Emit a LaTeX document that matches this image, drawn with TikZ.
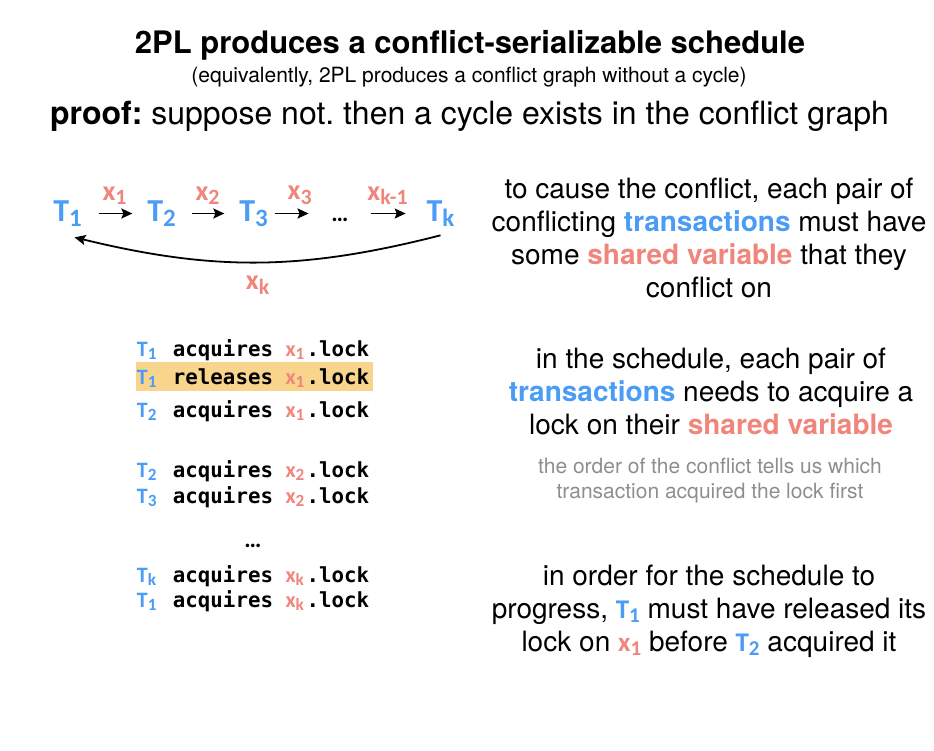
\documentclass[tikz,border=0pt]{standalone}
\usepackage{fontspec}
\setmainfont{TeX Gyre Heros}
\setmonofont{DejaVu Sans Mono}
\newfontfamily\calfont{Carlito}
\usetikzlibrary{arrows.meta,positioning}

\definecolor{txblue}{HTML}{4A9CF4}
\definecolor{varred}{HTML}{F0857C}
\definecolor{lockhl}{HTML}{F8D48C}
\definecolor{notegray}{HTML}{8E8E8E}

\newcommand{\sub}[1]{\raisebox{-0.16em}{\scalebox{0.78}{#1}}}
\newcommand{\txn}[1]{{\calfont\bfseries\color{txblue}T\sub{#1}}}
\newcommand{\svar}[1]{{\calfont\bfseries\color{varred}x\sub{#1}}}
\newcommand{\inl}[1]{{\fontsize{27}{33}\selectfont#1}}
\newcommand{\opline}[3]{\makebox[36pt][l]{\fontsize{22}{26}\selectfont\txn{#1}}#2 \makebox[21pt][l]{\fontsize{22}{26}\selectfont\svar{#3}}.lock}

\begin{document}
\frenchspacing
\begin{tikzpicture}[x=1pt, y=-1pt, >={Stealth[length=11pt,width=10pt,inset=2pt]}, line width=1.8pt,
    txnode/.style={inner sep=0pt, text=txblue, font=\calfont\bfseries\fontsize{32}{36}\selectfont},
    varlbl/.style={inner sep=0pt, text=varred, font=\calfont\bfseries\fontsize{28}{30}\selectfont},
    opnode/.style={anchor=base west, inner sep=0pt, font=\ttfamily\bfseries\fontsize{20.8}{24}\selectfont},
    prose/.style={anchor=base, align=center, inner sep=0pt, font=\fontsize{28}{33}\selectfont},
    note/.style={anchor=base, align=center, inner sep=0pt, text=notegray, font=\fontsize{21}{25}\selectfont}]
    \useasboundingbox (0,0) rectangle (934,750);

    % heading
    \node[anchor=base, font=\bfseries\fontsize{31}{36}\selectfont] (title) at (470,53) {2PL produces a conflict-serializable schedule};
    \node[anchor=base, font=\fontsize{21}{25}\selectfont] (subtitle) at (469,82) {(equivalently, 2PL produces a conflict graph without a cycle)};
    \node[anchor=base, font=\fontsize{32}{36}\selectfont] (proof) at (469.5,124) {\textbf{proof:} suppose not. then a cycle exists in the conflict graph};

    % conflict graph
    \node[txnode] (t1) at (67.5,213.5) {T\sub{1}};
    \node[txnode] (t2) at (161.5,213.5) {T\sub{2}};
    \node[txnode] (t3) at (253.5,213.5) {T\sub{3}};
    \node[txnode, text=black] (dots) at (340,213.5) {\vphantom{T\sub{1}}{\fontsize{24}{28}\selectfont …}};
    \node[txnode] (tk) at (440.5,213.5) {T\sub{k}};

    \path[->]
        (t1) edge[shorten <=16pt, shorten >=14pt] node[varlbl, above=8pt] {x\sub{1}} (t2)
        (t2) edge[shorten <=15pt, shorten >=14pt] node[varlbl, above=8pt] {x\sub{2}} (t3)
        (t3) edge[shorten <=6pt, shorten >=22pt] node[varlbl, above=8pt] {x\sub{3}} (dots)
        (dots) edge[shorten <=22pt, shorten >=20pt] node[varlbl, above=8pt] {x\sub{k-1}} (tk);
    \draw[->] ([yshift=-8pt]tk.south) to[bend left=14] node[varlbl, below=13pt] (xk) {x\sub{k}} ([xshift=7pt,yshift=-10pt]t1.south);

    % schedule
    \fill[lockhl] (136,362) rectangle (373,391);
    \node[opnode] (acq1) at (136,356) {\opline{1}{acquires}{1}};
    \node[opnode] (rel1) at (136,384) {\opline{1}{releases}{1}};
    \node[opnode] (acq2) at (136,417) {\opline{2}{acquires}{1}};
    \node[opnode] (acq3) at (136,477) {\opline{2}{acquires}{2}};
    \node[opnode] (acq4) at (136,503) {\opline{3}{acquires}{2}};
    \node[anchor=base, inner sep=0pt, font=\calfont\bfseries\fontsize{24}{28}\selectfont] (sdots) at (253,547) {…};
    \node[opnode] (acqk) at (136,582) {\opline{k}{acquires}{k}};
    \node[opnode] (acqlast) at (136,607) {\opline{1}{acquires}{k}};

    % explanations (base = last line)
    \node[prose] (why) at (709,297) {to cause the conflict, each pair of\\
        conflicting \textbf{\color{txblue}transactions} must have\\
        some \textbf{\color{varred}shared variable} that they\\
        conflict on};
    \node[prose] (locks) at (711,434) {in the schedule, each pair of\\
        \textbf{\color{txblue}transactions} needs to acquire a\\
        lock on their \textbf{\color{varred}shared variable}};
    \node[note] (order) at (710,498) {the order of the conflict tells us which\\
        transaction acquired the lock first};
    \node[prose] (release) at (709,651) {in order for the schedule to\\
        progress, \inl{\txn{1}} must have released its\\
        lock on \inl{\svar{1}} before \inl{\txn{2}} acquired it};
\end{tikzpicture}
\end{document}
